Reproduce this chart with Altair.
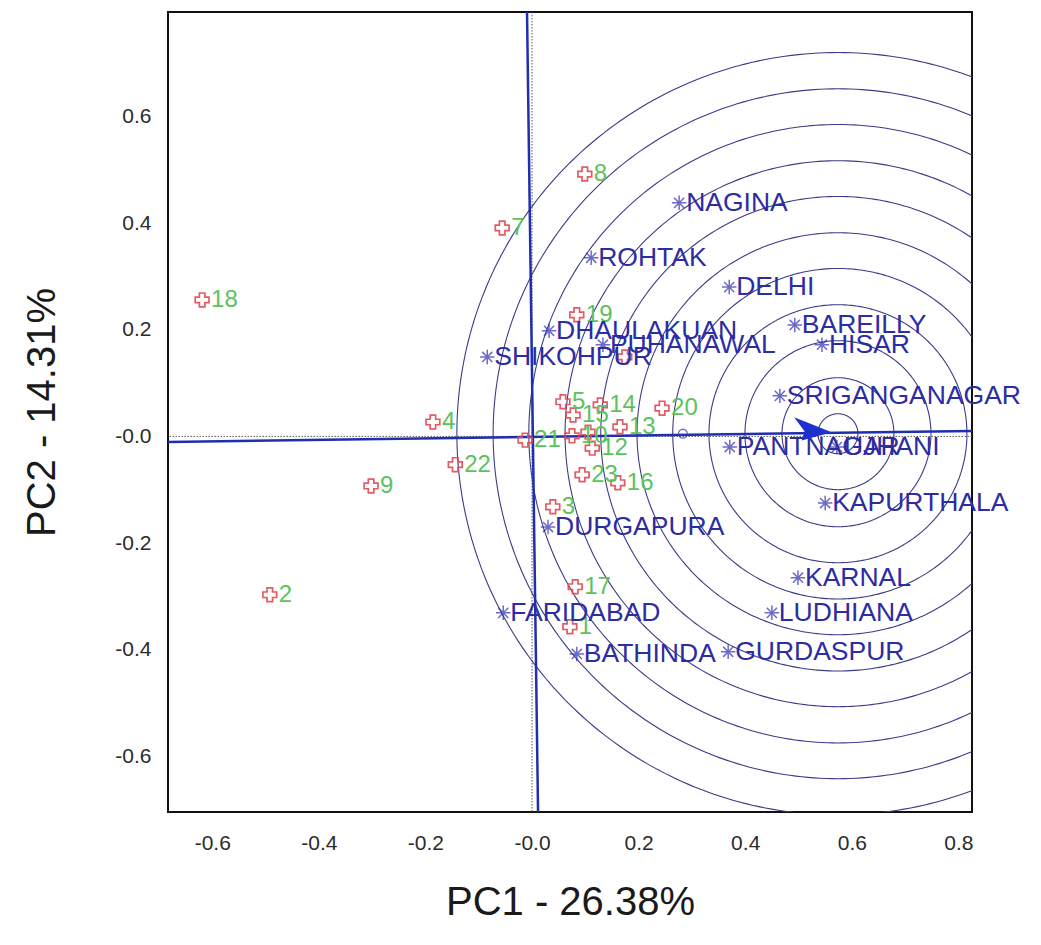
import altair as alt
import pandas as pd
import numpy as np

# ---------------- data ----------------
geno_ids = ["1", "2", "3", "4", "5", "6", "7", "8", "9", "10", "11", "12",
            "13", "14", "15", "16", "17", "18", "19", "20", "21", "22", "23"]
geno_x = [0.071, -0.492, 0.039, -0.186, 0.058, 0.174, -0.056, 0.099, -0.302, 0.075, 0.105,
          0.113, 0.165, 0.128, 0.077, 0.161, 0.081, -0.619, 0.084, 0.244, -0.013, -0.144, 0.094]
geno_y = [-0.357, -0.297, -0.132, 0.027, 0.065, 0.149, 0.391, 0.492, -0.093, 0.001, 0.008,
          -0.022, 0.018, 0.059, 0.040, -0.087, -0.282, 0.256, 0.228, 0.053, -0.007, -0.053, -0.072]
geno_show = [True, True, True, True, True, False, True, True, True, True, False, True,
             True, True, True, True, True, True, True, True, True, True, True]

env_names = ["NAGINA", "ROHTAK", "DELHI", "DHAULAKUAN", "BAREILLY", "PUHANAWAL", "HISAR",
             "SHIKOHPUR", "SRIGANGANAGAR", "PANTNAGAR", "UJHANI", "KAPURTHALA", "DURGAPURA",
             "KARNAL", "FARIDABAD", "LUDHIANA", "BATHINDA", "GURDASPUR"]
env_x = [0.276, 0.111, 0.370, 0.032, 0.493, 0.133, 0.544, -0.084, 0.465, 0.371, 0.572,
         0.550, 0.030, 0.499, -0.054, 0.450, 0.084, 0.368]
env_y = [0.438, 0.335, 0.280, 0.198, 0.209, 0.172, 0.172, 0.149, 0.076, -0.020, -0.020,
         -0.125, -0.170, -0.265, -0.331, -0.331, -0.408, -0.404]

# concentric circles around the ideal environment
ideal_x, ideal_y = 0.574, 0.005
ring_radii = [0.0375, 0.105, 0.1745, 0.242, 0.310, 0.377, 0.445, 0.512, 0.580, 0.647, 0.715]

# average environment marker and arrow head
avg_x, avg_y = 0.283, 0.005
arrow_x, arrow_y = 0.527, 0.008

# blue biplot axes (segments through the origin)
axis_x1 = [-0.683, -0.0094]
axis_y1 = [-0.0103, 0.796]
axis_x2 = [0.8255, 0.0113]
axis_y2 = [0.0103, -0.7045]

x_ticks = [-0.6, -0.4, -0.2, 0.0, 0.2, 0.4, 0.6, 0.8]
y_ticks = [-0.6, -0.4, -0.2, 0.0, 0.2, 0.4, 0.6]
x_domain = [-0.683, 0.8255]
y_domain = [-0.7045, 0.796]

# ---------------- build tables ----------------
geno = pd.DataFrame({"id": geno_ids, "x": geno_x, "y": geno_y, "show": geno_show})
geno_lab = geno[geno["show"]]
env = pd.DataFrame({"name": env_names, "x": env_x, "y": env_y})

ring_rows = []
ang = np.linspace(0, 2 * np.pi, 361)
for r in ring_radii:
    for i, a in enumerate(ang):
        ring_rows.append({"r": r, "i": i, "x": ideal_x + r * np.cos(a), "y": ideal_y + r * np.sin(a)})
rings = pd.DataFrame(ring_rows)

axes_df = pd.DataFrame({"x": axis_x1, "y": axis_y1, "x2": axis_x2, "y2": axis_y2})
single = pd.DataFrame({"x": [avg_x], "y": [avg_y]})
arrow = pd.DataFrame({"x": [arrow_x], "y": [arrow_y]})

label_expr = "(datum.value <= 0 ? '-' : '') + format(abs(datum.value), '.1f')"

X = alt.X("x:Q", scale=alt.Scale(domain=x_domain, nice=False, zero=False),
          axis=alt.Axis(values=x_ticks, labelExpr=label_expr, grid=False, ticks=False,
                        domain=False, labelFontSize=21, labelPadding=20,
                        labelFont="Liberation Sans", labelColor="#2b2b2b",
                        title="PC1 - 26.38%", titleFontSize=40, titleFontWeight="normal",
                        titleFont="Liberation Sans", titleColor="#1a1a1a", titlePadding=29))
Y = alt.Y("y:Q", scale=alt.Scale(domain=y_domain, nice=False, zero=False),
          axis=alt.Axis(values=y_ticks, labelExpr=label_expr, grid=False, ticks=False,
                        domain=False, labelFontSize=21, labelPadding=17,
                        labelFont="Liberation Sans", labelColor="#2b2b2b",
                        title="PC2 - 14.31%", titleFontSize=40, titleFontWeight="normal",
                        titleFont="Liberation Sans", titleColor="#1a1a1a", titlePadding=52))

ring_layer = alt.Chart(rings).mark_line(clip=True, color="#3c3c88", strokeWidth=1.1).encode(
    x=X, y=Y, detail="r:N", order="i:Q")

dot_v = alt.Chart(single).mark_rule(color="#555555", strokeDash=[1.5, 1.5], strokeWidth=1).encode(
    x=alt.X(datum=0))
dot_h = alt.Chart(single).mark_rule(color="#555555", strokeDash=[1.5, 1.5], strokeWidth=1).encode(
    y=alt.Y(datum=0))

axes_layer = alt.Chart(axes_df).mark_rule(color="#1f2fb0", strokeWidth=2.5, clip=True).encode(
    x=X, y=Y, x2="x2:Q", y2="y2:Q")

geno_pts = alt.Chart(geno).mark_point(shape="cross", filled=False, color="#e04b55",
                                      strokeWidth=1.7, size=190, opacity=0.9).encode(x=X, y=Y)
geno_txt = alt.Chart(geno_lab).mark_text(align="left", baseline="middle", dx=9, fontSize=24,
                                         font="Liberation Sans", color="#5cc25c").encode(
    x=X, y=Y, text="id:N")

star_path = "M-1,0L1,0M0,-1L0,1M-0.7,-0.7L0.7,0.7M-0.7,0.7L0.7,-0.7"
env_pts = alt.Chart(env).mark_point(shape=star_path, filled=False, color="#2f2fb0",
                                    strokeWidth=1.5, size=210).encode(x=X, y=Y)
env_txt = alt.Chart(env).mark_text(align="left", baseline="middle", dx=7, fontSize=26.5,
                                   font="Liberation Sans", color="#2c2ca3").encode(
    x=X, y=Y, text="name:N")

avg_pt = alt.Chart(single).mark_point(shape="circle", filled=False, color="#3535b5",
                                      strokeWidth=1.3, size=80).encode(x=X, y=Y)
arrow_head = alt.Chart(arrow).mark_point(shape="M1,0L-1,-0.8L-0.45,-0.05L-0.6,0.45Z",
                                         filled=True, color="#1f2fd0", size=1400,
                                         opacity=1).encode(x=X, y=Y)

chart = alt.layer(ring_layer, dot_v, dot_h, axes_layer, geno_pts, geno_txt, env_pts,
                  env_txt, avg_pt, arrow_head).properties(
    width=804, height=800,
    autosize=alt.AutoSizeParams(type="none"),
    padding={"left": 168, "top": 12, "right": 69, "bottom": 133},
    background="white",
).configure_view(stroke="#111111", strokeWidth=2)

chart.save("out.html", embed_options={"renderer": "svg", "actions": False})
